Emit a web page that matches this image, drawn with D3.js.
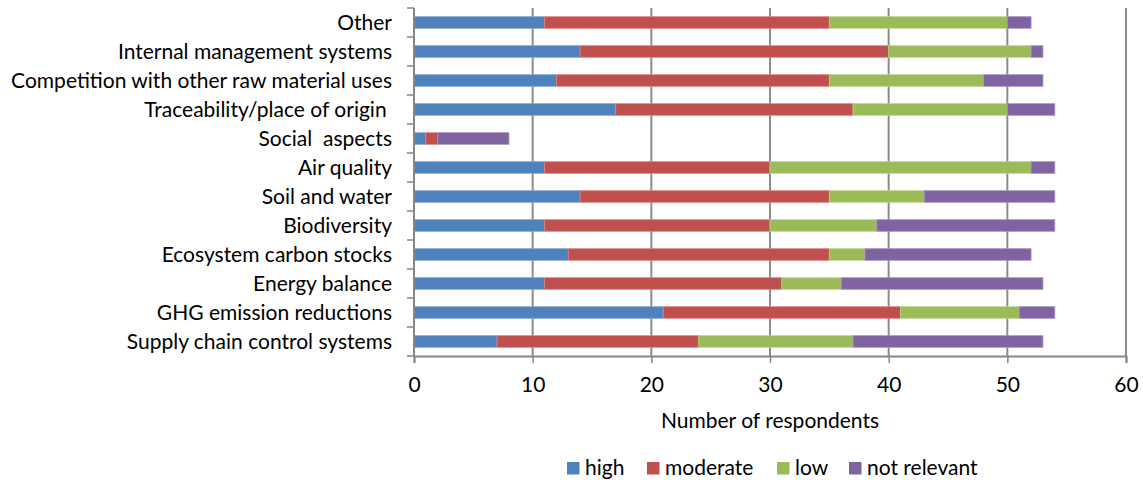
<!DOCTYPE html>
<html>
<head>
<meta charset="utf-8">
<script src="https://cdn.jsdelivr.net/npm/d3@7"></script>
<style>
  html, body { margin: 0; padding: 0; background: #fff; }
  svg text { font-family: Lato, "Open Sans", sans-serif; fill: #000; }
</style>
</head>
<body>
<svg id="chart" width="1143" height="480"></svg>
<script>
// Survey criteria, listed bottom to top as they appear on the axis
const categories = [
  "Supply chain control systems",
  "GHG emission reductions",
  "Energy balance",
  "Ecosystem carbon stocks",
  "Biodiversity",
  "Soil and water",
  "Air quality",
  "Social  aspects",
  "Traceability/place of origin ",
  "Competition with other raw material uses",
  "Internal management systems",
  "Other"
];

const seriesNames = ["high", "moderate", "low", "not relevant"];

const high        = [7, 21, 11, 13, 11, 14, 11, 1, 17, 12, 14, 11];
const moderate    = [17, 20, 20, 22, 19, 21, 19, 1, 20, 23, 26, 24];
const low         = [13, 10, 5, 3, 9, 8, 22, 0, 13, 13, 12, 15];
const notRelevant = [16, 3, 17, 14, 15, 11, 2, 6, 4, 5, 1, 2];

const xTicks = [0, 10, 20, 30, 40, 50, 60];
const xTitle = "Number of respondents";

const colors = ["#4F81BD", "#C0504D", "#9BBB59", "#8064A2"];
const edgeColors = ["#7FA3D1", "#D8837F", "#BCD38C", "#A590C0"];

const FONT = "21px";

const svg = d3.select("#chart");
const margin = { left: 414, right: 17, top: 8, bottom: 124 };
const W = 1143, H = 480;
const plotW = W - margin.left - margin.right;
const plotH = H - margin.top - margin.bottom;

const rows = categories.map((c, i) => ({
  category: c,
  high: high[i],
  moderate: moderate[i],
  low: low[i],
  "not relevant": notRelevant[i]
}));

const stacked = d3.stack().keys(seriesNames)(rows);

const x = d3.scaleLinear().domain([0, 60]).range([0, plotW]);
// top of the chart is the last category
const y = d3.scaleBand()
  .domain(categories.slice().reverse())
  .range([0, plotH])
  .paddingInner(0.6)
  .paddingOuter(0.3);

const g = svg.append("g").attr("transform", `translate(${margin.left},${margin.top})`);

// vertical gridlines
g.append("g")
  .selectAll("line")
  .data(xTicks.filter(t => t > 0))
  .join("line")
  .attr("x1", d => x(d)).attr("x2", d => x(d))
  .attr("y1", 0).attr("y2", plotH)
  .attr("stroke", "#8C8C8C")
  .attr("stroke-width", 2);

// stacked bars
g.append("g")
  .selectAll("g")
  .data(stacked)
  .join("g")
  .attr("fill", (d, i) => colors[i])
  .attr("stroke", (d, i) => edgeColors[i])
  .selectAll("rect")
  .data(d => d.filter(s => s[1] - s[0] > 0))
  .join("rect")
  .attr("x", d => x(d[0]))
  .attr("width", d => x(d[1]) - x(d[0]))
  .attr("y", d => y(d.data.category))
  .attr("height", y.bandwidth())
  .attr("stroke-width", 0.8);

// y axis: tick marks at band boundaries
const step = plotH / categories.length;
const yAxisG = g.append("g");
yAxisG.append("line")
  .attr("x1", 0).attr("x2", 0).attr("y1", 0).attr("y2", plotH)
  .attr("stroke", "#868686").attr("stroke-width", 2);
yAxisG.selectAll("line.tick")
  .data(d3.range(categories.length + 1))
  .join("line")
  .attr("class", "tick")
  .attr("x1", -7).attr("x2", 0)
  .attr("y1", d => d * step).attr("y2", d => d * step)
  .attr("stroke", "#868686").attr("stroke-width", 1.5);
yAxisG.selectAll("text")
  .data(categories)
  .join("text")
  .attr("x", -22)
  .attr("y", d => y(d) + y.bandwidth() / 2)
  .attr("dy", "0.35em")
  .attr("text-anchor", "end")
  .style("font-size", FONT)
  .style("white-space", "pre")
  .text(d => d);

// x axis
const xAxis = d3.axisBottom(x).tickValues(xTicks).tickSize(7).tickPadding(14);
const xAxisG = g.append("g")
  .attr("transform", `translate(0,${plotH})`)
  .call(xAxis);
xAxisG.select(".domain").attr("stroke", "#868686").attr("stroke-width", 2);
xAxisG.selectAll(".tick line").attr("stroke", "#868686").attr("stroke-width", 1.5);
xAxisG.selectAll(".tick text")
  .style("font-size", FONT)
  .style("font-family", "Lato, 'Open Sans', sans-serif")
  .attr("fill", "#000");

// x axis title
svg.append("text")
  .attr("x", margin.left + plotW / 2)
  .attr("y", 421)
  .attr("dy", "0.35em")
  .attr("text-anchor", "middle")
  .style("font-size", FONT)
  .text(xTitle);

// legend
const legendX = [567, 647, 777, 849];
const items = svg.append("g")
  .selectAll("g")
  .data(seriesNames)
  .join("g")
  .attr("transform", (d, i) => `translate(${legendX[i]},468)`);
items.append("rect")
  .attr("x", 0).attr("y", -6)
  .attr("width", 12.5).attr("height", 12.5)
  .attr("fill", (d, i) => colors[i]);
items.append("text")
  .attr("x", 18)
  .attr("dy", "0.35em")
  .style("font-size", FONT)
  .text(d => d);
</script>
</body>
</html>
